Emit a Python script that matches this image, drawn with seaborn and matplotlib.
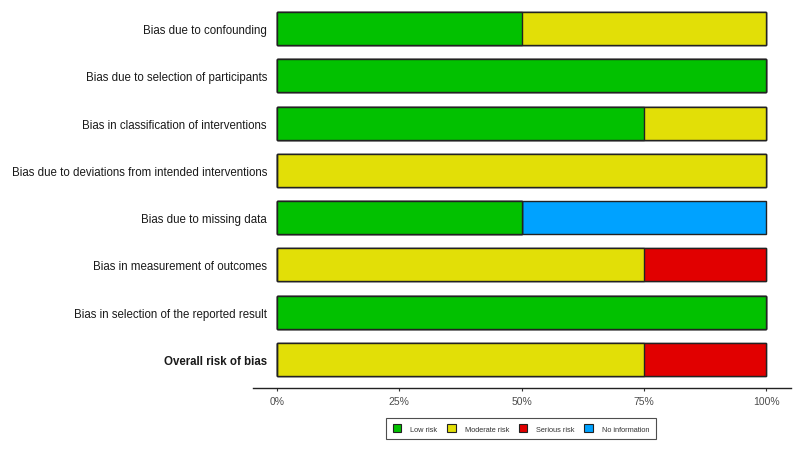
import pandas as pd
import matplotlib.pyplot as plt
import seaborn as sns
from matplotlib.patches import Patch

# Domains and proportion of studies per judgement
domains = [
    "Bias due to confounding",
    "Bias due to selection of participants",
    "Bias in classification of interventions",
    "Bias due to deviations from intended interventions",
    "Bias due to missing data",
    "Bias in measurement of outcomes",
    "Bias in selection of the reported result",
    "Overall risk of bias",
]
low_risk = [0.50, 1.00, 0.75, 0.00, 0.50, 0.00, 1.00, 0.00]
moderate_risk = [0.50, 0.00, 0.25, 1.00, 0.00, 0.75, 0.00, 0.75]
serious_risk = [0.00, 0.00, 0.00, 0.00, 0.00, 0.25, 0.00, 0.25]
no_information = [0.00, 0.00, 0.00, 0.00, 0.50, 0.00, 0.00, 0.00]

judgements = ["Low risk", "Moderate risk", "Serious risk", "No information"]
colors = ["#02C100", "#E2DF07", "#E10000", "#00A2FF"]

df = pd.DataFrame({
    "domain": domains,
    "Low risk": low_risk,
    "Moderate risk": moderate_risk,
    "Serious risk": serious_risk,
    "No information": no_information,
})

# cumulative widths so the bars can be stacked
cum = df[judgements].cumsum(axis=1)
cum["domain"] = df["domain"]

sns.set_style("white")
plt.rcParams["font.family"] = ["Liberation Sans", "DejaVu Sans"]

fig = plt.figure(figsize=(7.99, 4.52), dpi=100)
ax = fig.add_axes([252.5 / 799, 1 - 389 / 452, 538 / 799, 384 / 452])

# draw from the widest cumulative segment down so each layer sits on top
for j in reversed(range(len(judgements))):
    sns.barplot(data=cum, x=judgements[j], y="domain", order=domains,
                color=colors[j], saturation=1, width=0.7,
                edgecolor="#222222", linewidth=1.0, ax=ax)

ax.set_xlim(-0.05, 1.05)
ax.set_ylim(7.603, -0.518)
ax.set_xticks([0, 0.25, 0.5, 0.75, 1.0])
ax.set_xticklabels(["0%", "25%", "50%", "75%", "100%"], color="#4d4d4d", fontsize=7.5)
ax.set_xlabel("")
ax.set_ylabel("")
ax.tick_params(axis="x", length=2.5, width=0.8, color="#333333", pad=3.5, direction="out", bottom=True)
ax.tick_params(axis="y", length=0, pad=-10.4, labelsize=8.3, labelcolor="#1a1a1a")
for lab in ax.get_yticklabels():
    if lab.get_text() == "Overall risk of bias":
        lab.set_fontweight("bold")

for s in ["top", "right", "left"]:
    ax.spines[s].set_visible(False)
ax.spines["bottom"].set_color("#222222")
ax.spines["bottom"].set_linewidth(1.0)

handles = [Patch(facecolor=c, edgecolor="#222222", linewidth=0.8, label=l)
           for c, l in zip(colors, judgements)]
leg = fig.legend(handles=handles, loc="center", bbox_to_anchor=(521 / 799, 1 - 429.5 / 452),
                 ncol=4, fontsize=5.3, frameon=True, fancybox=False,
                 handlelength=1.2, handleheight=1.2, handletextpad=1.2,
                 columnspacing=1.3, borderpad=0.9, labelcolor="#333333")
leg.get_frame().set_edgecolor("#222222")
leg.get_frame().set_linewidth(0.8)

fig.savefig("out.png", dpi=100)
